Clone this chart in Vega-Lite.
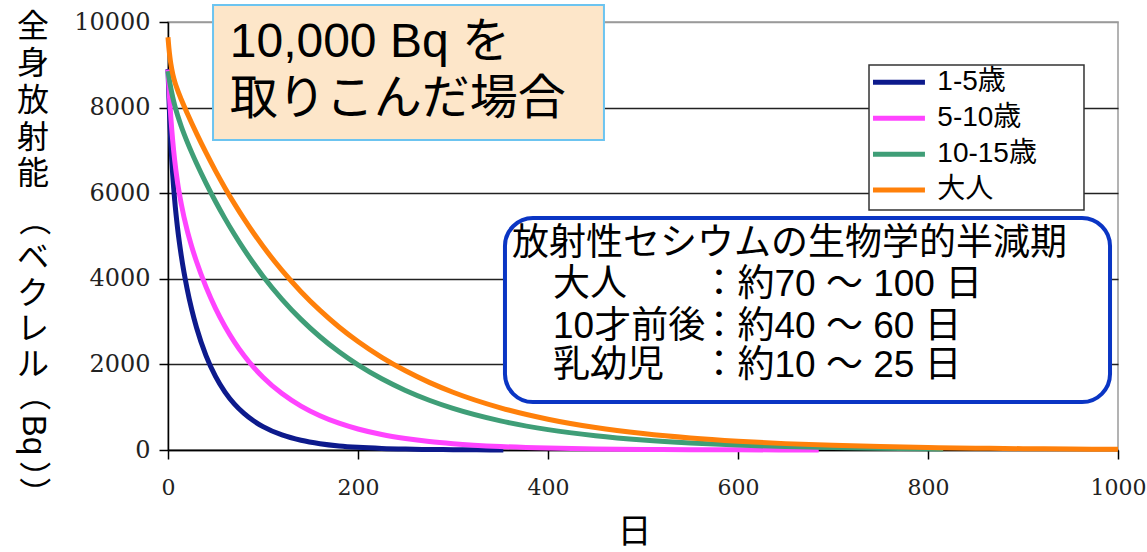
{
  "$schema": "https://vega.github.io/schema/vega-lite/v6.json",
  "width": 950,
  "height": 428,
  "autosize": {"type": "none"},
  "padding": {"left": 168, "top": 22, "right": 29, "bottom": 102},
  "background": "white",
  "config": {
    "view": {"stroke": "#9a9a9a", "strokeWidth": 1.5},
    "axis": {"labelFont": "DejaVu Serif", "labelColor": "#222", "domainColor": "#000", "domainWidth": 1.5, "tickColor": "#000", "tickWidth": 1.5, "tickSize": 9, "labelFlush": false, "labelOverlap": false},
    "axisX": {"labelPadding": 18, "format": "d", "labelFontSize": 22},
    "axisY": {"labelPadding": 9, "format": "d", "labelFontSize": 24}
  },
  "datasets": {
    "curves": [
      {"day":0,"series":"1-5歳","bq":8900},{"day":1,"series":"1-5歳","bq":8210},{"day":2,"series":"1-5歳","bq":7642},{"day":3,"series":"1-5歳","bq":7165},{"day":5,"series":"1-5歳","bq":6417},{"day":7,"series":"1-5歳","bq":5847},{"day":10,"series":"1-5歳","bq":5195},{"day":14,"series":"1-5歳","bq":4535},{"day":20,"series":"1-5歳","bq":3779},{"day":25,"series":"1-5歳","bq":3278},{"day":30,"series":"1-5歳","bq":2861},{"day":40,"series":"1-5歳","bq":2204},{"day":50,"series":"1-5歳","bq":1719},{"day":60,"series":"1-5歳","bq":1353},{"day":70,"series":"1-5歳","bq":1072},{"day":80,"series":"1-5歳","bq":854},{"day":90,"series":"1-5歳","bq":682},{"day":100,"series":"1-5歳","bq":546},{"day":120,"series":"1-5歳","bq":351},{"day":140,"series":"1-5歳","bq":227},{"day":160,"series":"1-5歳","bq":147},{"day":180,"series":"1-5歳","bq":95},{"day":200,"series":"1-5歳","bq":62},{"day":225,"series":"1-5歳","bq":36},{"day":250,"series":"1-5歳","bq":21},{"day":275,"series":"1-5歳","bq":12},{"day":300,"series":"1-5歳","bq":7},{"day":325,"series":"1-5歳","bq":4},{"day":353,"series":"1-5歳","bq":2},
      {"day":0,"series":"5-10歳","bq":8890},{"day":1,"series":"5-10歳","bq":8465},{"day":2,"series":"5-10歳","bq":8092},{"day":3,"series":"5-10歳","bq":7765},{"day":5,"series":"5-10歳","bq":7217},{"day":7,"series":"5-10歳","bq":6778},{"day":10,"series":"5-10歳","bq":6261},{"day":14,"series":"5-10歳","bq":5745},{"day":20,"series":"5-10歳","bq":5147},{"day":25,"series":"5-10歳","bq":4750},{"day":30,"series":"5-10歳","bq":4403},{"day":40,"series":"5-10歳","bq":3810},{"day":50,"series":"5-10歳","bq":3310},{"day":60,"series":"5-10歳","bq":2886},{"day":70,"series":"5-10歳","bq":2522},{"day":80,"series":"5-10歳","bq":2207},{"day":90,"series":"5-10歳","bq":1936},{"day":100,"series":"5-10歳","bq":1701},{"day":120,"series":"5-10歳","bq":1318},{"day":140,"series":"5-10歳","bq":1026},{"day":160,"series":"5-10歳","bq":801},{"day":180,"series":"5-10歳","bq":626},{"day":200,"series":"5-10歳","bq":491},{"day":225,"series":"5-10歳","bq":362},{"day":250,"series":"5-10歳","bq":269},{"day":275,"series":"5-10歳","bq":198},{"day":300,"series":"5-10歳","bq":147},{"day":350,"series":"5-10歳","bq":81},{"day":400,"series":"5-10歳","bq":44},{"day":450,"series":"5-10歳","bq":24},{"day":500,"series":"5-10歳","bq":13},{"day":550,"series":"5-10歳","bq":7},{"day":600,"series":"5-10歳","bq":4},{"day":685,"series":"5-10歳","bq":1},
      {"day":0,"series":"10-15歳","bq":8850},{"day":1,"series":"10-15歳","bq":8703},{"day":2,"series":"10-15歳","bq":8571},{"day":3,"series":"10-15歳","bq":8451},{"day":5,"series":"10-15歳","bq":8240},{"day":7,"series":"10-15歳","bq":8059},{"day":10,"series":"10-15歳","bq":7825},{"day":14,"series":"10-15歳","bq":7559},{"day":20,"series":"10-15歳","bq":7212},{"day":25,"series":"10-15歳","bq":6948},{"day":30,"series":"10-15歳","bq":6700},{"day":40,"series":"10-15歳","bq":6236},{"day":50,"series":"10-15歳","bq":5806},{"day":60,"series":"10-15歳","bq":5406},{"day":70,"series":"10-15歳","bq":5034},{"day":80,"series":"10-15歳","bq":4686},{"day":90,"series":"10-15歳","bq":4364},{"day":100,"series":"10-15歳","bq":4062},{"day":120,"series":"10-15歳","bq":3521},{"day":140,"series":"10-15歳","bq":3052},{"day":160,"series":"10-15歳","bq":2646},{"day":180,"series":"10-15歳","bq":2293},{"day":200,"series":"10-15歳","bq":1988},{"day":225,"series":"10-15歳","bq":1663},{"day":250,"series":"10-15歳","bq":1391},{"day":275,"series":"10-15歳","bq":1163},{"day":300,"series":"10-15歳","bq":973},{"day":350,"series":"10-15歳","bq":681},{"day":400,"series":"10-15歳","bq":476},{"day":450,"series":"10-15歳","bq":333},{"day":500,"series":"10-15歳","bq":233},{"day":550,"series":"10-15歳","bq":163},{"day":600,"series":"10-15歳","bq":114},{"day":650,"series":"10-15歳","bq":80},{"day":700,"series":"10-15歳","bq":56},{"day":750,"series":"10-15歳","bq":39},{"day":816,"series":"10-15歳","bq":24},
      {"day":0,"series":"大人","bq":9644},{"day":1,"series":"大人","bq":9381},{"day":2,"series":"大人","bq":9179},{"day":3,"series":"大人","bq":9020},{"day":5,"series":"大人","bq":8785},{"day":7,"series":"大人","bq":8613},{"day":10,"series":"大人","bq":8413},{"day":14,"series":"大人","bq":8188},{"day":20,"series":"大人","bq":7880},{"day":25,"series":"大人","bq":7634},{"day":30,"series":"大人","bq":7398},{"day":40,"series":"大人","bq":6946},{"day":50,"series":"大人","bq":6522},{"day":60,"series":"大人","bq":6124},{"day":70,"series":"大人","bq":5750},{"day":80,"series":"大人","bq":5399},{"day":90,"series":"大人","bq":5069},{"day":100,"series":"大人","bq":4759},{"day":120,"series":"大人","bq":4196},{"day":140,"series":"大人","bq":3699},{"day":160,"series":"大人","bq":3261},{"day":180,"series":"大人","bq":2875},{"day":200,"series":"大人","bq":2534},{"day":225,"series":"大人","bq":2165},{"day":250,"series":"大人","bq":1850},{"day":275,"series":"大人","bq":1580},{"day":300,"series":"大人","bq":1349},{"day":350,"series":"大人","bq":985},{"day":400,"series":"大人","bq":719},{"day":450,"series":"大人","bq":524},{"day":500,"series":"大人","bq":383},{"day":550,"series":"大人","bq":279},{"day":600,"series":"大人","bq":204},{"day":650,"series":"大人","bq":149},{"day":700,"series":"大人","bq":109},{"day":750,"series":"大人","bq":79},{"day":800,"series":"大人","bq":58},{"day":850,"series":"大人","bq":42},{"day":900,"series":"大人","bq":31},{"day":950,"series":"大人","bq":22},{"day":1000,"series":"大人","bq":16}
    ]
  },
  "layer": [
    {
      "data": {"name": "curves"},
      "mark": {"type": "line", "strokeWidth": 5, "interpolate": "monotone"},
      "encoding": {
        "x": {"field": "day", "type": "quantitative", "scale": {"domain": [0, 1000], "nice": false, "zero": false},
          "axis": {"values": [0, 200, 400, 600, 800, 1000], "format": "d", "title": "日", "grid": false, "labelFont": "DejaVu Serif", "labelFontSize": 22, "labelPadding": 18, "titleFont": "Noto Sans CJK JP", "titleFontSize": 34, "titleFontWeight": "normal", "titleColor": "#000", "titleX": 466, "titleY": 82, "titleAlign": "center", "titleBaseline": "middle"}},
        "y": {"field": "bq", "type": "quantitative", "scale": {"domain": [0, 10000], "nice": false},
          "axis": {"values": [0, 2000, 4000, 6000, 8000, 10000], "format": "d", "title": null, "grid": true, "gridColor": {"condition": {"test": "datum.value === 10000", "value": "#9a9a9a"}, "value": "#222"}, "gridWidth": 1.5, "labelFont": "DejaVu Serif", "labelFontSize": 24, "labelPadding": 9}},
        "color": {"field": "series", "type": "nominal", "scale": {"domain": ["1-5歳", "5-10歳", "10-15歳", "大人"], "range": ["#0D1A8C", "#FF44FF", "#3F9E77", "#FF800A"]}, "legend": null}
      }
    },
    {"data": {"values": [{}]}, "mark": {"type": "rect", "fill": "#FDE6C9", "stroke": "#6CC4F0", "strokeWidth": 2},
      "encoding": {"x": {"datum": 47.4}, "x2": {"datum": 458.9}, "y": {"datum": 10397}, "y2": {"datum": 7243}}},
    {"data": {"values": [{}]}, "mark": {"type": "text", "text": "10,000 Bq を", "font": "Liberation Sans, Noto Sans CJK JP", "fontSize": 48, "align": "left", "baseline": "middle", "color": "#000"},
      "encoding": {"x": {"datum": 65}, "y": {"datum": 9509}}},
    {"data": {"values": [{}]}, "mark": {"type": "text", "text": "取りこんだ場合", "font": "Liberation Sans, Noto Sans CJK JP", "fontSize": 48, "align": "left", "baseline": "middle", "color": "#000"},
      "encoding": {"x": {"datum": 65}, "y": {"datum": 8178}}},
    {"data": {"values": [{}]}, "mark": {"type": "rect", "fill": "white", "stroke": "#0A35C4", "strokeWidth": 4, "cornerRadius": 28},
      "encoding": {"x": {"datum": 354.7}, "x2": {"datum": 991.6}, "y": {"datum": 5420}, "y2": {"datum": 1121}}},
    {"data": {"values": [{}]}, "mark": {"type": "text", "text": "放射性セシウムの生物学的半減期", "font": "Liberation Sans, Noto Sans CJK JP", "fontSize": 37, "align": "left", "baseline": "middle", "color": "#000"},
      "encoding": {"x": {"datum": 362.1}, "y": {"datum": 4813}}},
    {"data": {"values": [{}]}, "mark": {"type": "text", "text": "大人", "font": "Liberation Sans, Noto Sans CJK JP", "fontSize": 37, "align": "left", "baseline": "middle", "color": "#000"},
      "encoding": {"x": {"datum": 405.3}, "y": {"datum": 3855}}},
    {"data": {"values": [{}]}, "mark": {"type": "text", "text": "：約70 ～ 100 日", "font": "Liberation Sans, Noto Sans CJK JP", "fontSize": 37, "align": "left", "baseline": "middle", "color": "#000"},
      "encoding": {"x": {"datum": 560.5}, "y": {"datum": 3855}}},
    {"data": {"values": [{}]}, "mark": {"type": "text", "text": "10才前後", "font": "Liberation Sans, Noto Sans CJK JP", "fontSize": 37, "align": "left", "baseline": "middle", "color": "#000"},
      "encoding": {"x": {"datum": 405.3}, "y": {"datum": 2874}}},
    {"data": {"values": [{}]}, "mark": {"type": "text", "text": "：約40 ～ 60 日", "font": "Liberation Sans, Noto Sans CJK JP", "fontSize": 37, "align": "left", "baseline": "middle", "color": "#000"},
      "encoding": {"x": {"datum": 560.5}, "y": {"datum": 2874}}},
    {"data": {"values": [{}]}, "mark": {"type": "text", "text": "乳幼児", "font": "Liberation Sans, Noto Sans CJK JP", "fontSize": 37, "align": "left", "baseline": "middle", "color": "#000"},
      "encoding": {"x": {"datum": 405.3}, "y": {"datum": 1963}}},
    {"data": {"values": [{}]}, "mark": {"type": "text", "text": "：約10 ～ 25 日", "font": "Liberation Sans, Noto Sans CJK JP", "fontSize": 37, "align": "left", "baseline": "middle", "color": "#000"},
      "encoding": {"x": {"datum": 560.5}, "y": {"datum": 1963}}},
    {"data": {"values": [{}]}, "mark": {"type": "rect", "fill": "white", "stroke": "#333", "strokeWidth": 1.5},
      "encoding": {"x": {"datum": 737.9}, "x2": {"datum": 964.2}, "y": {"datum": 8995}, "y2": {"datum": 5607}}},
    {"data": {"values": [{}]}, "mark": {"type": "rule", "strokeWidth": 5, "color": "#0D1A8C"},
      "encoding": {"x": {"datum": 742.1}, "x2": {"datum": 796.8}, "y": {"datum": 8591}}},
    {"data": {"values": [{}]}, "mark": {"type": "rule", "strokeWidth": 5, "color": "#FF44FF"},
      "encoding": {"x": {"datum": 742.1}, "x2": {"datum": 796.8}, "y": {"datum": 7750}}},
    {"data": {"values": [{}]}, "mark": {"type": "rule", "strokeWidth": 5, "color": "#3F9E77"},
      "encoding": {"x": {"datum": 742.1}, "x2": {"datum": 796.8}, "y": {"datum": 6909}}},
    {"data": {"values": [{}]}, "mark": {"type": "rule", "strokeWidth": 5, "color": "#FF800A"},
      "encoding": {"x": {"datum": 742.1}, "x2": {"datum": 796.8}, "y": {"datum": 6075}}},
    {"data": {"values": [{}]}, "mark": {"type": "text", "text": "1-5歳", "font": "Liberation Sans, Noto Sans CJK JP", "fontSize": 28, "align": "left", "baseline": "middle", "color": "#000"},
      "encoding": {"x": {"datum": 809.8}, "y": {"datum": 8591}}},
    {"data": {"values": [{}]}, "mark": {"type": "text", "text": "5-10歳", "font": "Liberation Sans, Noto Sans CJK JP", "fontSize": 28, "align": "left", "baseline": "middle", "color": "#000"},
      "encoding": {"x": {"datum": 809.8}, "y": {"datum": 7750}}},
    {"data": {"values": [{}]}, "mark": {"type": "text", "text": "10-15歳", "font": "Liberation Sans, Noto Sans CJK JP", "fontSize": 28, "align": "left", "baseline": "middle", "color": "#000"},
      "encoding": {"x": {"datum": 809.8}, "y": {"datum": 6909}}},
    {"data": {"values": [{}]}, "mark": {"type": "text", "text": "大人", "font": "Liberation Sans, Noto Sans CJK JP", "fontSize": 28, "align": "left", "baseline": "middle", "color": "#000"},
      "encoding": {"x": {"datum": 809.8}, "y": {"datum": 6075}}},
    {"data": {"values": [{}]}, "mark": {"type": "text", "text": ["全", "身", "放", "射", "能"], "lineHeight": 36.7, "font": "Noto Sans CJK JP", "fontSize": 32, "align": "center", "baseline": "top", "color": "#000"},
      "encoding": {"x": {"datum": -142}, "y": {"datum": 10222}}},
    {"data": {"values": [{}]}, "mark": {"type": "text", "text": "（", "angle": 90, "font": "Noto Sans CJK JP", "fontSize": 32, "align": "center", "baseline": "middle", "color": "#000"},
      "encoding": {"x": {"datum": -142}, "y": {"datum": 5374}}},
    {"data": {"values": [{}]}, "mark": {"type": "text", "text": ["ベ", "ク", "レ", "ル"], "lineHeight": 35.5, "font": "Noto Sans CJK JP", "fontSize": 32, "align": "center", "baseline": "top", "color": "#000"},
      "encoding": {"x": {"datum": -142}, "y": {"datum": 4836}}},
    {"data": {"values": [{}]}, "mark": {"type": "text", "text": "（", "angle": 90, "font": "Noto Sans CJK JP", "fontSize": 32, "align": "center", "baseline": "middle", "color": "#000"},
      "encoding": {"x": {"datum": -142}, "y": {"datum": 1285}}},
    {"data": {"values": [{}]}, "mark": {"type": "text", "text": "Bq", "angle": 90, "font": "Liberation Sans", "fontSize": 33, "align": "center", "baseline": "middle", "color": "#000"},
      "encoding": {"x": {"datum": -142}, "y": {"datum": 350}}},
    {"data": {"values": [{}]}, "mark": {"type": "text", "text": "））", "angle": 90, "font": "Noto Sans CJK JP", "fontSize": 32, "align": "left", "baseline": "middle", "color": "#000"},
      "encoding": {"x": {"datum": -142}, "y": {"datum": -257}}}
  ]
}
